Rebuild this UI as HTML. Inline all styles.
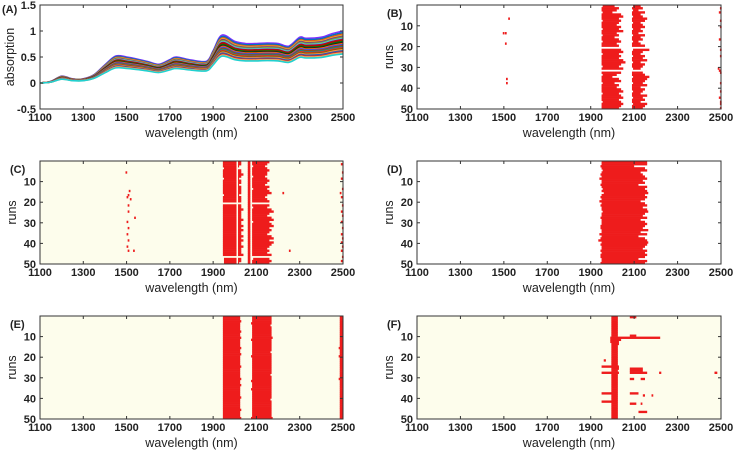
<!DOCTYPE html>
<html><head><meta charset="utf-8">
<style>
html,body{margin:0;padding:0;background:#fff;}
svg text{font-family:"Liberation Sans",Arial,sans-serif;fill:#222;}
.tk{font-size:11px;font-weight:bold;}
.tt{font-size:12.5px;}
.pl{font-size:11px;font-weight:bold;}
</style></head>
<body>
<svg id="fig" width="734" height="456" viewBox="0 0 734 456" xmlns="http://www.w3.org/2000/svg"></svg>
<script>
// ---- Panel A data ----
const specWl = [1100,1150,1200,1250,1300,1350,1400,1450,1500,1550,1600,1650,1700,1730,1800,1870,1900,1940,2000,2050,2100,2150,2200,2250,2300,2330,2400,2450,2500];
const specBase = [0,0.03,0.13,0.08,0.08,0.16,0.35,0.52,0.5,0.46,0.41,0.36,0.45,0.5,0.44,0.42,0.62,0.92,0.8,0.76,0.76,0.77,0.76,0.71,0.88,0.86,0.88,0.95,1.0];
const specScale = [1.0,0.97,0.94,0.92,0.9,0.88,0.86,0.84,0.82,0.8,0.78,0.76,0.74,0.72,0.7,0.68,0.66,0.64,0.62,0.6,0.58,0.56];
const specColors = ["#7e2fff","#0072bd","#d95319","#edb120","#7e2f8e","#77ac30","#4dbeee","#a2142f","#c00000","#008000","#202020","#ff6600","#3050ff","#b04000","#009090","#e03030","#806000","#ff9040","#2060c0","#c03030","#ffb060","#20d0d0"];
const yTicksA = [-0.5,0,0.5,1,1.5];
const yTickLabA = ["-0.5","0","0.5","1","1.5"];
const xTicks = [1100,1300,1500,1700,1900,2100,2300,2500];
const runTicks = [10,20,30,40,50];

// ---- Heatmap data: per-run band edges (nm), null = no cells ----
const B_band1L = [1955,1950,1950,1955,1950,1950,1950,1955,1950,1950,1950,1955,1950,1950,1955,1950,1950,1955,1950,1950,null,1950,1950,1955,1950,1950,1950,1950,1950,1955,1950,null,1950,1955,1950,1950,1950,1955,1950,1950,1950,1950,1955,1950,1950,1950,1955,1950,1950,1950];
const B_band1R = [2010,2030,2020,2000,2040,2050,2030,2040,2030,2020,2040,2030,2050,2020,2030,2010,2030,2040,2020,2030,null,2040,2050,2030,2040,2030,2050,2060,2040,2030,2050,null,2040,2020,2000,2030,2040,2010,2030,2020,2040,2050,2030,2040,2050,2030,2040,2050,2040,2030];
const B_band2L = [2095,2090,2095,2090,2090,2095,2090,2090,2095,2090,2090,2095,2090,2090,2095,2090,2090,2095,2090,2090,null,2095,2090,2090,2095,2090,2090,2095,2090,2090,2095,null,2090,2090,2095,2090,2090,2095,2090,2090,2090,2095,2090,2090,2095,2090,2090,2095,2090,2090];
const B_band2R = [2130,2140,2120,2150,2130,2140,2160,2150,2130,2140,2150,2130,2140,2120,2150,2130,2140,2120,2130,2150,null,2170,2140,2130,2150,2140,2160,2130,2150,2140,2130,null,2140,2150,2170,2160,2150,2140,2160,2130,2150,2140,2130,2160,2140,2150,2130,2160,2150,2140];
const B_pts = [[7,1520],[14,1495],[14,1505],[19,1505],[36,1510],[38,1510],[2,2495],[4,2490],[8,2495],[11,2495],[17,2490],[22,2495],[25,2495],[31,2485],[32,2490],[33,2495],[38,2495],[42,2495],[45,2490],[47,2495],[48,2495],[50,2495]];

const C_band1L = [1945,1945,1945,1950,1945,1945,1945,1945,1950,1945,1945,1945,1945,1945,1945,1945,1950,1945,1945,1945,null,1945,1945,1945,1945,1945,1945,1945,1945,1945,1945,1945,1945,1945,1945,1945,1945,1945,1945,1945,1945,1945,1945,1945,1945,1945,null,1950,1950,1950];
const C_band1R = [2030,2030,2020,2010,2030,2030,2040,2030,2020,2030,2030,2020,2030,2030,2030,2030,2020,2030,2030,2030,null,2030,2030,2040,2030,2030,2030,2030,2040,2030,2030,2040,2030,2040,2030,2030,2040,2030,2040,2030,2030,2040,2030,2030,2030,2040,null,2030,2030,2020];
const C_band2L = [2080,2080,2085,2080,2080,2080,2080,2085,2080,2080,2080,2080,2080,2085,2080,2080,2080,2080,2080,2080,null,2080,2085,2080,2080,2080,2080,2080,2080,2085,2080,2080,2080,2080,2080,2080,2080,2080,2080,2080,2080,2080,2080,2080,2080,2080,null,2085,2080,2080];
const C_band2R = [2160,2150,2140,2150,2160,2150,2150,2140,2150,2160,2150,2140,2160,2150,2160,2170,2150,2140,2150,2160,null,2160,2150,2170,2180,2160,2150,2170,2180,2160,2170,2180,2160,2170,2160,2150,2170,2180,2160,2180,2170,2160,2150,2160,2150,2170,null,2160,2170,2160];
const C_line = [2060,2072];
const C_pts = [[6,1495],[15,1510],[17,1505],[18,1500],[19,1515],[22,1505],[25,1505],[28,1535],[30,1500],[33,1505],[36,1500],[39,1505],[42,1500],[44,1505],[44,1530],[16,2220],[44,2250],[2,2490],[6,2495],[9,2490],[14,2495],[16,2485],[18,2490],[22,2495],[25,2490],[27,2495],[30,2490],[33,2495],[36,2490],[38,2495],[40,2490],[42,2495],[44,2490],[47,2495],[49,2490]];

const D_L = [1950,1950,1945,1950,1955,1950,1945,1950,1940,1950,1950,1945,1950,1955,1950,1960,1950,1945,1950,1940,1950,1945,1950,1950,1955,1950,1950,1945,1950,1950,1950,1945,1945,1950,1950,1940,1950,1945,1935,1950,1945,1950,1950,1945,1950,1945,1945,1950,1950,1945];
const D_R = [2160,2160,2100,2150,2160,2130,2140,2150,2160,2140,2150,2120,2160,2150,2160,2165,2150,2160,2150,2130,2150,2160,2140,2160,2165,2150,2140,2160,2130,2150,2160,2150,2140,2165,2130,2160,2120,2150,2160,2165,2160,2150,2140,2160,2150,2160,2150,2120,2160,2150];

const E_band1L = [1945,1945,1945,1945,1945,1945,1945,1945,1945,1945,1945,1945,1945,1945,1945,1945,1945,1945,1945,1945,1945,1945,1945,1945,1945,1945,1945,1945,1945,1945,1945,1945,1945,1945,1945,1945,1945,1945,1945,1945,1945,1945,1945,1945,1945,1945,1945,1945,1945,1945];
const E_band1R = [2025,2025,2030,2025,2025,2025,2025,2030,2025,2025,2030,2025,2025,2025,2025,2030,2025,2025,2030,2025,2025,2025,2025,2025,2030,2025,2025,2025,2025,2025,2030,2025,2025,2030,2025,2025,2025,2025,2025,2030,2025,2025,2025,2025,2025,2030,2025,2025,2025,2030];
const E_band2L = [2080,2080,2080,2075,2080,2080,2080,2080,2080,2080,2080,2075,2080,2080,2080,2080,2080,2080,2080,2075,2080,2080,2080,2080,2080,2080,2080,2080,2080,2080,2080,2075,2080,2080,2080,2075,2080,2080,2080,2080,2080,2080,2080,2080,2080,2080,2080,2080,2080,2075];
const E_band2R = [2170,2170,2170,2170,2165,2170,2170,2170,2170,2170,2175,2170,2170,2170,2170,2170,2170,2165,2170,2170,2170,2170,2170,2170,2170,2170,2170,2170,2165,2170,2170,2170,2170,2170,2170,2170,2170,2170,2170,2170,2165,2170,2170,2170,2170,2170,2170,2170,2170,2175];
const E_band3L = [2485,2485,2485,2485,2485,2485,2485,2485,2485,2485,2485,2485,2485,2485,2485,2480,2485,2485,2485,2480,2485,2485,2485,2485,2485,2485,2485,2485,2485,2485,2480,2485,2485,2485,2485,2485,2485,2485,2485,2485,2485,2485,2485,2485,2485,2485,2485,2485,2485,2485];

const F_colL = [1995,1995,1995,1995,1995,1995,1995,1995,1995,1995,1990,1990,1990,1995,1995,1995,1995,1995,1995,1995,1995,1995,1995,1995,1995,1995,1995,1995,1995,1995,1995,1995,1995,1995,1995,1995,1995,1995,1995,1995,1995,1995,1995,1995,1995,1995,1995,1995,1995,1995];
const F_colR = [2025,2025,2025,2025,2025,2025,2025,2025,2025,2025,2220,2030,2030,2030,2025,2025,2025,2025,2025,2025,2025,2025,2025,2025,2030,2030,2025,2030,2025,2025,2025,2025,2025,2025,2025,2025,2025,2025,2025,2025,2025,2025,2025,2025,2025,2025,2025,2025,2025,2025];
const F_segRun = [1,10,25,26,27,28,28,28,31,31,38,38,39,42,43,47,22,12];
const F_segFrom = [2080,2080,1950,2080,2080,1950,2080,2215,2080,2130,1950,2080,2140,1950,2080,2120,1960,2000];
const F_segTo = [2110,2110,2000,2140,2140,2000,2160,2225,2100,2150,2000,2120,2150,2000,2110,2160,1970,2040];
const F_pts = [[28,2470],[28,2475],[39,2180],[43,2130]];

const NS="http://www.w3.org/2000/svg";
const svg=document.getElementById('fig');
function mk(tag,attrs,parent){const e=document.createElementNS(NS,tag);for(const k in attrs)e.setAttribute(k,attrs[k]);(parent||svg).appendChild(e);return e;}
function txt(x,y,s,cls,anchor,parent,rot){const t=mk('text',{x:x,y:y,'class':cls,'text-anchor':anchor||'middle'},parent);if(rot)t.setAttribute('transform','rotate(-90 '+x+' '+y+')');t.textContent=s;return t;}

const YBG='#fdfdec';
const panels=[
 {id:'a',label:'(A)',x0:40,x1:343,y0:5,y1:109,bg:'#ffffff'},
 {id:'b',label:'(B)',x0:417,x1:721,y0:5,y1:109,bg:'#ffffff'},
 {id:'c',label:'(C)',x0:40,x1:343,y0:161,y1:264,bg:YBG},
 {id:'d',label:'(D)',x0:417,x1:721,y0:161,y1:264,bg:'#ffffff'},
 {id:'e',label:'(E)',x0:40,x1:343,y0:316,y1:419,bg:YBG},
 {id:'f',label:'(F)',x0:417,x1:721,y0:316,y1:419,bg:YBG}
];
function xs(p,wl){return p.x0+(wl-1100)/1400*(p.x1-p.x0);}
function ys(p,run){return p.y0+run/50*(p.y1-p.y0);}
function ya(p,v){return p.y1-(v+0.5)/2*(p.y1-p.y0);}

function frame(p){
  const g=mk('g',{});
  
  
  const bg=mk('rect',{x:p.x0,y:p.y0,width:p.x1-p.x0,height:p.y1-p.y0,fill:p.bg},g);
  
  
  return g;
}
function axes(p,g,isA){
  const ax=mk('g',{},g);
  
  
  xTicks.forEach(w=>{const x=xs(p,w);
    mk('line',{x1:x,x2:x,y1:p.y1,y2:p.y1-3,stroke:'#333','stroke-width':1},ax);
    mk('line',{x1:x,x2:x,y1:p.y0,y2:p.y0+3,stroke:'#333','stroke-width':1},ax);
    const t=txt(x,p.y1+12,String(w),'tk','middle',ax);
    
    
  });
  if(isA){
    yTicksA.forEach((v,i)=>{const y=ya(p,v);
      mk('line',{x1:p.x0,x2:p.x0+3,y1:y,y2:y,stroke:'#333'},ax);
      mk('line',{x1:p.x1,x2:p.x1-3,y1:y,y2:y,stroke:'#333'},ax);
      const t=txt(p.x0-4,y+4,yTickLabA[i],'tk','end',ax);
      
      
    });
  } else {
    runTicks.forEach(r=>{const y=ys(p,r);
      mk('line',{x1:p.x0,x2:p.x0+3,y1:y,y2:y,stroke:'#333'},ax);
      mk('line',{x1:p.x1,x2:p.x1-3,y1:y,y2:y,stroke:'#333'},ax);
      const t=txt(p.x0-4,y+4,String(r),'tk','end',ax);
      
      
    });
  }
  mk('rect',{x:p.x0,y:p.y0,width:p.x1-p.x0,height:p.y1-p.y0,fill:'none',stroke:'#333','stroke-width':1},ax);
  const xt=txt((p.x0+p.x1)/2,p.y1+28,'wavelength (nm)','tt','middle',ax);
  
  
  const yt=txt(p.x0-(isA?26:24),(p.y0+p.y1)/2,isA?'absorption':'runs','tt','middle',ax,true);
  
  
  const pl=txt(p.x0-(isA?38:30),p.y0+(isA?8:12),p.label,'pl','start',ax);
  
  
}
const RED='#ee1c1c';
function cell(p,g,run,w0,w1){
  if(w0==null||w1==null)return;
  const r=mk('rect',{x:xs(p,w0),y:ys(p,run-1),width:Math.max(1.5,xs(p,w1)-xs(p,w0)),height:(p.y1-p.y0)/50+0.3,fill:RED},g);
  
  
}
function band(p,g,L,R){for(let i=0;i<50;i++){cell(p,g,i+1,L[i],R[i]);}}
function pts(p,g,P){P.forEach(q=>cell(p,g,q[0],q[1],q[1]+8));}
function smooth(P){
  let d='M'+P[0][0].toFixed(1)+','+P[0][1].toFixed(1);
  for(let i=0;i<P.length-1;i++){
    const p0=P[Math.max(0,i-1)],p1=P[i],p2=P[i+1],p3=P[Math.min(P.length-1,i+2)];
    const c1=[p1[0]+(p2[0]-p0[0])/6,p1[1]+(p2[1]-p0[1])/6];
    const c2=[p2[0]-(p3[0]-p1[0])/6,p2[1]-(p3[1]-p1[1])/6];
    d+=' C'+c1[0].toFixed(1)+','+c1[1].toFixed(1)+' '+c2[0].toFixed(1)+','+c2[1].toFixed(1)+' '+p2[0].toFixed(1)+','+p2[1].toFixed(1);
  }
  return d;
}

// Panel A
(function(){const p=panels[0];const g=frame(p);
  const lines=mk('g',{},g);
  
  
  specScale.forEach((s,k)=>{
    const P=specWl.map((w,i)=>[xs(p,w),ya(p,specBase[i]*s)]);
    const pa=mk('path',{d:smooth(P),fill:'none',stroke:specColors[k%specColors.length],'stroke-width':1.6,'stroke-linejoin':'round'},lines);
    
    
  });
  axes(p,g,true);
})();
// B
(function(){const p=panels[1];const g=frame(p);band(p,g,B_band1L,B_band1R);band(p,g,B_band2L,B_band2R);pts(p,g,B_pts);axes(p,g,false);})();
// C
(function(){const p=panels[2];const g=frame(p);band(p,g,C_band1L,C_band1R);band(p,g,C_band2L,C_band2R);
  for(let r=1;r<=50;r++)cell(p,g,r,C_line[0],C_line[1]);
  pts(p,g,C_pts);
  const wl=mk('rect',{x:xs(p,2008),y:p.y0,width:1.5,height:p.y1-p.y0,fill:YBG},g);
  
  
  axes(p,g,false);})();
// D
(function(){const p=panels[3];const g=frame(p);band(p,g,D_L,D_R);axes(p,g,false);})();
// E
(function(){const p=panels[4];const g=frame(p);band(p,g,E_band1L,E_band1R);band(p,g,E_band2L,E_band2R);
  band(p,g,E_band3L,E_band3L.map(()=>2500));axes(p,g,false);})();
// F
(function(){const p=panels[5];const g=frame(p);band(p,g,F_colL,F_colR);
  F_segRun.forEach((r,i)=>cell(p,g,r,F_segFrom[i],F_segTo[i]));
  pts(p,g,F_pts);axes(p,g,false);})();
</script>
</body></html>
